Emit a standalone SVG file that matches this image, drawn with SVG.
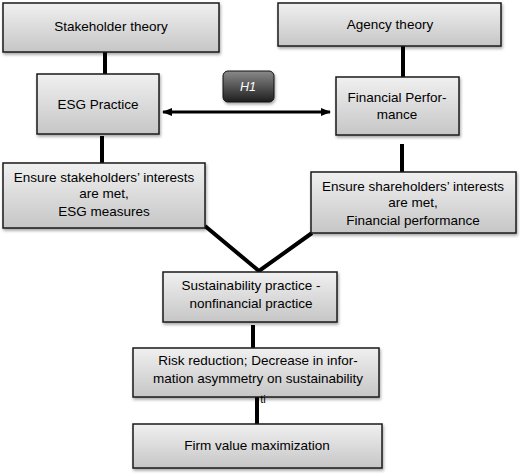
<svg xmlns="http://www.w3.org/2000/svg" width="520" height="476" viewBox="0 0 520 476">
<defs>
<linearGradient id="g" x1="0" y1="0" x2="0" y2="1">
<stop offset="0" stop-color="#f0f0f0"/>
<stop offset="1" stop-color="#c6c6c6"/>
</linearGradient>
<linearGradient id="h" x1="0" y1="0" x2="0" y2="1">
<stop offset="0" stop-color="#8a8a8a"/>
<stop offset="1" stop-color="#1e1e1e"/>
</linearGradient>
<filter id="s" x="-10%" y="-10%" width="125%" height="130%">
<feDropShadow dx="1" dy="2" stdDeviation="1.5" flood-color="#000" flood-opacity="0.35"/>
</filter>
<marker id="a" markerWidth="10" markerHeight="10" refX="9" refY="5" orient="auto-start-reverse" markerUnits="userSpaceOnUse">
<path d="M0,1 L10,5 L0,9 Z" fill="#000"/>
</marker>
</defs>
<style>
.b{fill:url(#g);stroke:#1a1a1a;stroke-width:1.5;filter:url(#s)}
.t{font-family:"Liberation Sans",Arial,sans-serif;font-size:13.5px;fill:#000;text-anchor:middle}
.c{stroke:#000;stroke-width:4;fill:none}
</style>
<rect width="520" height="476" fill="#fff"/>
<g id="connectors">
<line class="c" x1="105" y1="52" x2="105" y2="74"/>
<line class="c" x1="403" y1="46" x2="403" y2="77"/>
<line class="c" x1="102" y1="136" x2="102" y2="163"/>
<line class="c" x1="402" y1="144" x2="402" y2="172"/>
<polyline class="c" points="205,226 259,271 312,233"/>
<line class="c" x1="253" y1="325" x2="253" y2="348"/>
<line class="c" x1="257" y1="397" x2="257" y2="424"/>
<line x1="163" y1="112" x2="330" y2="112" stroke="#000" stroke-width="3" marker-start="url(#a)" marker-end="url(#a)"/>
</g>
<g id="stakeholder">
<rect class="b" x="3" y="3" width="216" height="49"/>
<text class="t" x="111" y="31">Stakeholder theory</text>
</g>
<g id="agency">
<rect class="b" x="278" y="3" width="223" height="43"/>
<text class="t" x="390" y="29">Agency theory</text>
</g>
<g id="esg">
<rect class="b" x="37" y="74" width="122" height="60"/>
<text class="t" x="98" y="109">ESG Practice</text>
</g>
<g id="h1">
<rect x="223" y="71" width="51" height="31" rx="5" fill="url(#h)" stroke="#111" stroke-width="1" filter="url(#s)"/>
<text x="248" y="91" font-family="Liberation Sans,Arial,sans-serif" font-size="12.5" font-style="italic" fill="#fff" text-anchor="middle">H1</text>
</g>
<g id="financial">
<rect class="b" x="336" y="77" width="123" height="58"/>
<text class="t" x="397" y="102">Financial Perfor-</text>
<text class="t" x="397" y="119">mance</text>
</g>
<g id="ensure-stake">
<rect class="b" x="3" y="163" width="202" height="65"/>
<text class="t" x="104" y="182">Ensure stakeholders’ interests</text>
<text class="t" x="104" y="198">are met,</text>
<text class="t" x="104" y="216">ESG measures</text>
</g>
<g id="ensure-share">
<rect class="b" x="311" y="172" width="205" height="61"/>
<text class="t" x="413" y="191">Ensure shareholders’ interests</text>
<text class="t" x="413" y="207">are met,</text>
<text class="t" x="413" y="225">Financial performance</text>
</g>
<g id="sustainability">
<rect class="b" x="163" y="272" width="174" height="50"/>
<text class="t" x="251" y="290">Sustainability practice -</text>
<text class="t" x="251" y="308">nonfinancial practice</text>
</g>
<g id="risk">
<rect class="b" x="133" y="348" width="246" height="49"/>
<text class="t" x="258" y="365">Risk reduction; Decrease in infor-</text>
<text class="t" x="258" y="383">mation asymmetry on sustainability</text>
<text x="263" y="403" font-family="Liberation Sans,Arial,sans-serif" font-size="11" text-anchor="middle">ti</text>
</g>
<g id="firm">
<rect class="b" x="133" y="424" width="249" height="44"/>
<text class="t" x="257" y="450">Firm value maximization</text>
</g>
</svg>
